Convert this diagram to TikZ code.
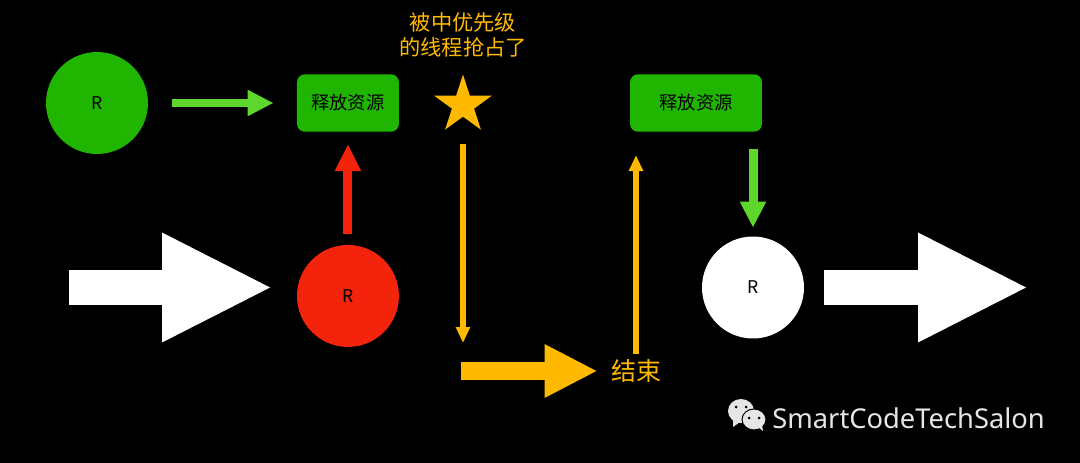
\documentclass[tikz,border=0pt]{standalone}
\usepackage{fontspec}
\setmainfont{Noto Sans CJK SC}
\newfontfamily\wmfont{Noto Sans}
\usetikzlibrary{arrows.meta,shapes.geometric}
\definecolor{resgreen}{HTML}{1FB500}
\definecolor{lightgreen}{HTML}{5FD62B}
\definecolor{lockred}{HTML}{F4230C}
\definecolor{staryellow}{HTML}{FFB900}
\definecolor{wmgray}{HTML}{E6E6E6}
\begin{document}
\begin{tikzpicture}[x=0.02cm, y=-0.02cm,
        res/.style={circle, fill=#1, minimum size=2.04cm, inner sep=0pt, font=\fontsize{10}{10}\selectfont},
        release/.style={rectangle, fill=resgreen, rounded corners=0.16cm, minimum height=1.15cm, inner sep=0pt, font=\fontsize{10.4}{10.4}\selectfont},
        bigarrow/.style={white, line width=0.72cm, -{Triangle[length=2.22cm, width=2.02cm]}},
        greenarrow/.style={lightgreen, line width=0.18cm, -{Triangle[length=0.52cm, width=0.49cm]}},
        thinarrow/.style={staryellow, line width=0.105cm, -{Triangle[length=0.32cm, width=0.27cm]}}]
    % background
    \fill[black] (0,0) rectangle (1080,463);
    \useasboundingbox (0,0) rectangle (1080,463);
    % resources
    \node[res=resgreen] (rgreen) at (97,103) {R};
    \node[release, minimum width=2.04cm, right of=rgreen, node distance=5.02cm] (relA) {释放资源};
    \node[res=lockred, below of=relA, node distance=3.86cm] (rred) {R};
    \node[star, star points=5, star point ratio=2.618, fill=staryellow, minimum size=1.22cm, inner sep=0pt] (preempt) at (463,105) {};
    \node[release, minimum width=2.64cm] (relB) at (696,103) {释放资源};
    \node[res=white] (rwhite) at (753,287.5) {R};
    % labels
    \node[text=staryellow, align=center, font=\fontsize{12.1}{14.6}\selectfont, inner sep=0pt] (preemptlabel) at (463,35) {被中优先级\\的线程抢占了};
    \node[text=staryellow, font=\fontsize{14.2}{14.2}\selectfont, inner sep=0pt] (finish) at (636,371) {结束};
    % free ends
    \coordinate (whiteA) at (69,287.5);
    \coordinate (whiteB) at (273,287.5);
    \coordinate (whiteC) at (824,287.5);
    \coordinate (whiteD) at (1029,287.5);
    \coordinate (yellowdown) at (463,343);
    \coordinate (yellowstart) at (461,371);
    % connectors
    \draw[bigarrow] (whiteA) -- (whiteB);
    \draw[bigarrow] (whiteC) -- (whiteD);
    \draw[greenarrow, shorten <=0.48cm, shorten >=0.46cm] (rgreen) -- (relA);
    \draw[lockred, line width=0.18cm, -{Triangle[length=0.54cm, width=0.49cm]}, shorten <=0.22cm, shorten >=0.24cm] (rred) -- (relA);
    \draw[thinarrow, shorten <=0.78cm] (preempt.center) -- (yellowdown);
    \draw[staryellow, line width=0.36cm, -{Triangle[length=1.06cm, width=0.99cm]}, shorten >=0.26cm] (yellowstart) -- (finish);
    \draw[thinarrow, shorten <=0.1cm, shorten >=0.46cm] (finish.north) -- (finish.north |- relB.south);
    \draw[greenarrow, shorten <=0.34cm, shorten >=0.17cm] (rwhite |- relB.south) -- (rwhite);
    % watermark
    \node[text=wmgray, anchor=west, inner sep=0pt, font=\wmfont\fontsize{15.55}{15.55}\selectfont] (wmtext) at (772,418) {SmartCodeTechSalon};
    \fill[wmgray] (741,411) ellipse (13 and 12);
    \fill[wmgray] (733,420) -- (733,427) -- (740,422) -- cycle;
    \fill[wmgray, draw=black, line width=0.02cm] (754,419.5) ellipse (12 and 10.5);
    \fill[wmgray] (758,427) -- (763,431) -- (762,425) -- cycle;
    \foreach \ex/\ey in {736/407, 746/407, 749/418, 759/418}
        \fill[black] (\ex,\ey) circle (1.5);
\end{tikzpicture}
\end{document}
